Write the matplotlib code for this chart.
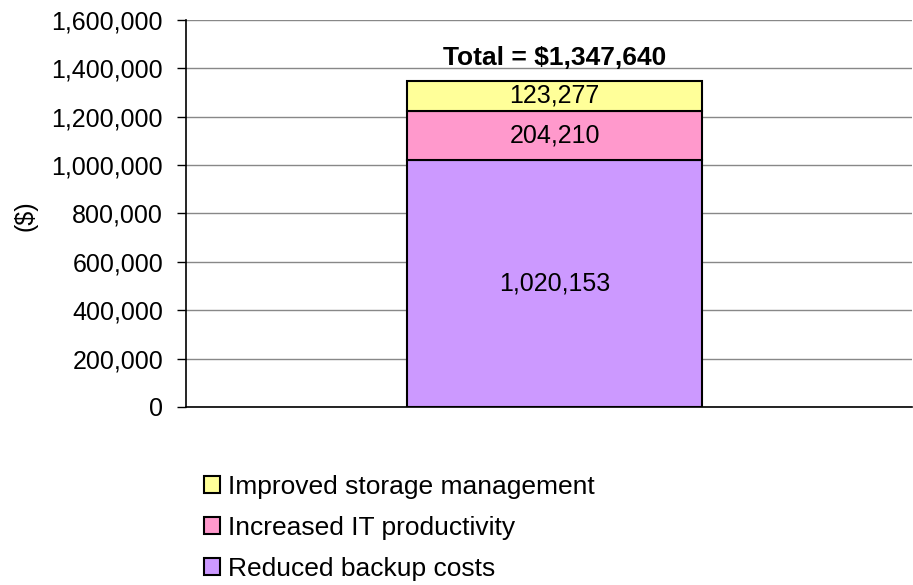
import matplotlib.pyplot as plt
from matplotlib.patches import Patch
from matplotlib.ticker import FuncFormatter

plt.rcParams['font.family'] = ['Liberation Sans', 'DejaVu Sans']

series = ["Reduced backup costs", "Increased IT productivity", "Improved storage management"]
values = [1020153, 204210, 123277]
colors = ["#CC99FF", "#FF99CC", "#FFFF99"]
total_label = "Total = $1,347,640"
fs = 18

fig = plt.figure(figsize=(9.13, 5.85), dpi=100)
ax = fig.add_axes([0.2037, 0.3043, 0.7953, 0.6615])

bottom = 0
for name, v, c in zip(series, values, colors):
    ax.bar(0, v, width=0.406, bottom=bottom, color=c, edgecolor="black",
           linewidth=1.5, zorder=3)
    ax.text(0, bottom + v / 2, f"{v:,}", ha="center", va="center",
            fontsize=fs, zorder=4)
    bottom += v

ax.text(0, bottom + 45000, total_label, ha="center", va="bottom",
        fontsize=19, fontweight="bold")

ax.set_xlim(-0.5076, 0.4924)
ax.set_ylim(0, 1600000)
ax.set_yticks(range(0, 1600001, 200000))
ax.yaxis.set_major_formatter(FuncFormatter(lambda v, p: f"{int(v):,}"))
ax.tick_params(axis="y", labelsize=fs, length=6.5, width=1, direction="out", pad=10)
ax.set_xticks([])
ax.grid(axis="y", color="#888888", linewidth=1, zorder=0)
for s in ["top", "right"]:
    ax.spines[s].set_visible(False)
ax.spines["left"].set_linewidth(1.2)
ax.spines["bottom"].set_linewidth(1.2)
ax.set_ylabel("($)", fontsize=fs)
ax.yaxis.set_label_coords(-0.205, 0.495)

handles = [Patch(facecolor=c, edgecolor="black", linewidth=1.5) for c in colors[::-1]]
fig.legend(handles, series[::-1], loc="upper left", bbox_to_anchor=(0.2234, 0.188),
           frameon=False, fontsize=19, handlelength=0.6, handleheight=0.6,
           handletextpad=0.3, labelspacing=0.64, borderaxespad=0, borderpad=0)

fig.savefig("out.png", dpi=100)
